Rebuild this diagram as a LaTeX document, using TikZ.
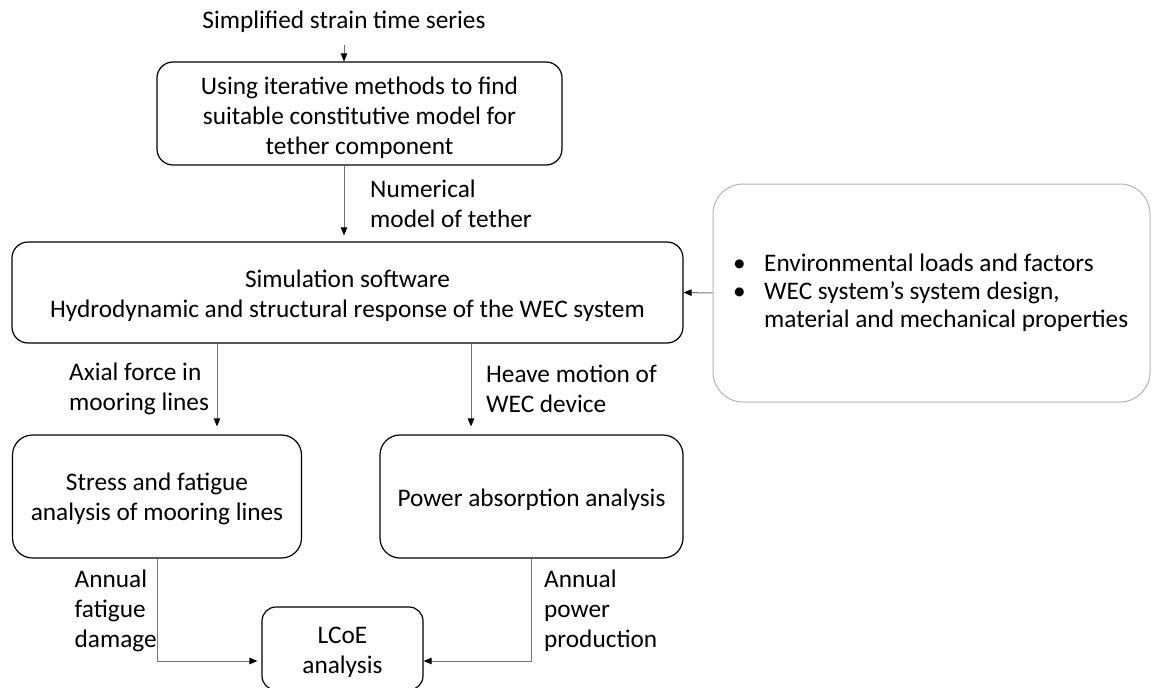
\documentclass[tikz,border=0pt]{standalone}
\usepackage{fontspec}
\setmainfont{Carlito}
\usetikzlibrary{arrows.meta}
\begin{document}
\begin{tikzpicture}[x=1pt,y=-1pt,
  txt/.style={font=\fontsize{25.3}{30}\selectfont},
  box/.style={draw=black, line width=1.2pt, rounded corners=16pt, inner sep=0pt},
  btxt/.style={txt, inner sep=0pt, align=center},
  lbl/.style={txt, inner sep=0pt, align=left, anchor=west},
  bl/.style={txt, inner sep=0pt, anchor=base west},
  conn/.style={draw=black!55, line width=1pt, -{Triangle[length=8pt,width=6.5pt,black]}}]
\useasboundingbox (0,0) rectangle (1152,688);
% boxes
\node[box, minimum width=405pt, minimum height=103pt] (b1) at (359.5,113.5) {};
\node[btxt] (b1t) at ([yshift=-4pt]b1.center)
  {Using iterative methods to find\\suitable constitutive model for\\tether component};
\node[box, minimum width=671pt, minimum height=101pt] (b2) at (347.5,292.5) {};
\node[btxt] (b2t) at ([yshift=-3pt]b2.center)
  {Simulation software\\Hydrodynamic and structural response of the WEC system};
\node[box, draw=black!30, line width=1pt, rounded corners=30pt, minimum width=437pt, minimum height=218pt] (rb) at (931.5,293) {};
\node[box, rounded corners=20pt, minimum width=289pt, minimum height=123pt] (sf) at (157,496.5) {};
\node[btxt] (sft) at ([yshift=-2pt]sf.center) {Stress and fatigue\\analysis of mooring lines};
\node[box, rounded corners=20pt, minimum width=303pt, minimum height=123pt] (pa) at (531.5,496.5) {};
\node[btxt] (pat) at ([yshift=-3pt]pa.center) {Power absorption analysis};
\node[box, rounded corners=14pt, minimum width=161pt, minimum height=83pt] (lc) at (342.5,648.5) {};
\node[btxt] (lct) at (342.5,652) {LCoE\\analysis};
% texts
\node[txt, inner sep=0pt] (sst) at (344,22) {Simplified strain time series};
\node[lbl] (num) at (370,204) {Numerical\\model of tether};
\node[lbl] (axl) at (69,389) {Axial force in\\mooring lines};
\node[lbl] (hvm) at (486,389) {Heave motion of\\WEC device};
\node[lbl] (afd) at (74.5,611) {Annual\\fatigue\\damage};
\node[lbl] (app) at (544,611) {Annual\\power\\production};
\node[bl] (bu1) at (733,271) {\textbullet};
\node[bl] (bu2) at (733,299) {\textbullet};
\node[bl] (t1) at (764,271) {Environmental loads and factors};
\node[bl] (t2) at (764,299) {WEC system’s system design,};
\node[bl] (t3) at (764,327) {material and mechanical properties};
% connector coordinates
\coordinate (c0) at (344,45);
\coordinate (xa) at (217,0);
\coordinate (xb) at (471,0);
\coordinate (yl) at (0,661);
% connectors
\draw[conn] (c0) -- (c0 |- b1.north);
\draw[conn, shorten >=6pt] (b1.south -| c0) -- (b2.north -| c0);
\draw[conn] (rb.west) -- (b2.east);
\draw[conn, shorten >=8pt] (b2.south -| xa) -- (sf.north -| xa);
\draw[conn, shorten >=8pt] (b2.south -| xb) -- (pa.north -| xb);
\draw[conn, shorten >=4pt] (sf.south) |- (yl -| lc.west);
\draw[conn] (pa.south) |- (yl -| lc.east);
\end{tikzpicture}
\end{document}
